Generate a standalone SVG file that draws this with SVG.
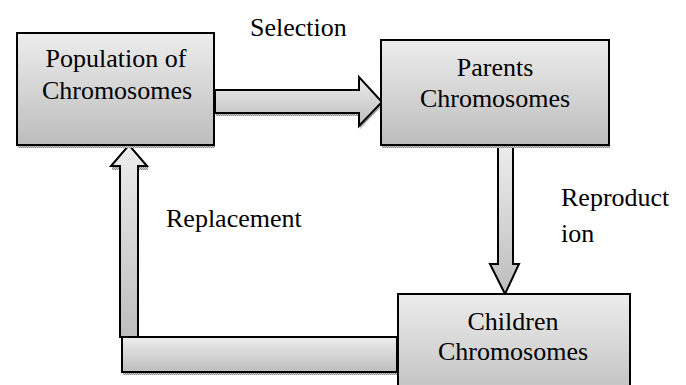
<svg xmlns="http://www.w3.org/2000/svg" width="686" height="385" viewBox="0 0 686 385">
<defs>
<linearGradient id="gv" x1="0" y1="0" x2="0" y2="1">
<stop offset="0" stop-color="#ededed"/>
<stop offset="1" stop-color="#bdbdbd"/>
</linearGradient>
<pattern id="sh" width="2" height="2" patternUnits="userSpaceOnUse">
<rect width="2" height="2" fill="#d0d0d0"/>
<rect width="1" height="1" fill="#8a8a8a"/>
<rect x="1" y="1" width="1" height="1" fill="#8a8a8a"/>
</pattern>
</defs>
<style>
.box{fill:url(#gv);stroke:#000;stroke-width:2}
.shadow{fill:url(#sh);stroke:none}
.arrow{fill:url(#gv);stroke:#000;stroke-width:2;stroke-linejoin:miter}
text{font-family:"Liberation Serif","Times New Roman",serif;font-size:26px;fill:#000}
.c{text-anchor:middle}
</style>
<g id="connectors">
<g id="selection-arrow">
<polygon class="shadow" points="216,92 360,92 360,80 383,105 360,129 360,116 216,116"/>
<polygon class="arrow" points="215,90 359,90 359,77 382,102 359,126 359,113 215,113"/>
</g>
<g id="reproduction-arrow">
<polygon class="arrow" points="498,145 513,145 513,264 519,264 505,294 490,264 498,264"/>
</g>
<g id="replacement-arrow">
<rect class="shadow" x="123" y="340" width="274" height="35"/>
<rect class="arrow" x="122" y="337" width="275" height="35"/>
<rect class="shadow" x="112" y="167" width="8" height="3"/>
<rect class="shadow" x="139" y="167" width="9" height="3"/>
<polygon class="arrow" points="120,337 138,337 138,166 147,166 129,145 111,166 120,166"/>
</g>
<text x="250" y="36">Selection</text>
<text x="561" y="206">Reproduct</text>
<text x="561" y="242">ion</text>
<text x="166" y="227">Replacement</text>
</g>
<g id="population">
<rect class="shadow" x="18" y="36" width="197" height="112"/>
<rect class="box" x="17" y="33" width="197" height="112"/>
<text class="c" x="116" y="67">Population of</text>
<text class="c" x="117" y="99">Chromosomes</text>
</g>
<g id="parents">
<rect class="shadow" x="382" y="43" width="228" height="105"/>
<rect class="box" x="381" y="40" width="228" height="105"/>
<text class="c" x="495" y="76">Parents</text>
<text class="c" x="495" y="107">Chromosomes</text>
</g>
<g id="children">
<rect class="box" x="398" y="294" width="232" height="110"/>
<text class="c" x="513" y="330">Children</text>
<text class="c" x="513" y="360">Chromosomes</text>
</g>
</svg>
